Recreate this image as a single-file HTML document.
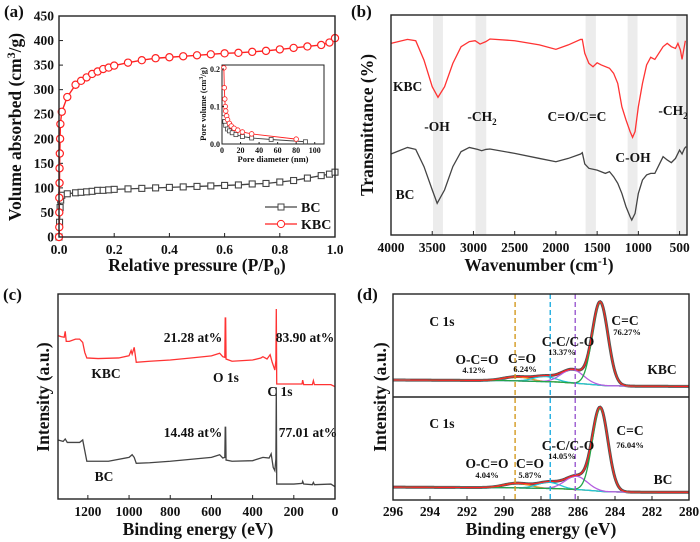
<!DOCTYPE html>
<html><head><meta charset="utf-8">
<style>
html,body{margin:0;padding:0;background:#fff;}
svg{display:block;font-family:"Liberation Serif",serif;font-weight:bold;}
</style></head>
<body>
<svg id="fig" width="700" height="542" viewBox="0 0 700 542" xmlns="http://www.w3.org/2000/svg"></svg>
<script>
// ---------- Panel (a) data ----------
const isoP_KBC = [0,0.001,0.001,0.001,0.002,0.002,0.003,0.004,0.005,0.01,0.03,0.06,0.08,0.1,0.12,0.14,0.16,0.18,0.2,0.25,0.3,0.35,0.4,0.45,0.5,0.55,0.6,0.65,0.7,0.75,0.8,0.85,0.9,0.95,0.98,1.0];
const isoV_KBC = [0,20,50,80,110,140,170,200,230,255,285,310,318,325,332,337,342,345,349,355,360,364,366,368,370,372,374,375,377,379,382,385,388,391,396,405];
const isoP_BC = [0,0.002,0.004,0.006,0.01,0.03,0.06,0.08,0.1,0.12,0.14,0.16,0.18,0.2,0.25,0.3,0.35,0.4,0.45,0.5,0.55,0.6,0.65,0.7,0.75,0.8,0.85,0.9,0.95,0.98,1.0];
const isoV_BC = [0,30,60,75,85,88,90,91,92,93,95,95,96,97,98,99,100,101,102,103,104,105,106,108,109,112,115,120,125,128,132];
const inD_KBC = [2,2.5,3,3.5,4,5,6,8,10,13,17,22,32,80];
const inV_KBC = [0.203,0.15,0.12,0.1,0.088,0.075,0.065,0.055,0.048,0.042,0.037,0.032,0.027,0.013];
const inD_BC = [2,3,4,6,8,11,15,22,32,53,90];
const inV_BC = [0.07,0.06,0.05,0.04,0.035,0.03,0.025,0.02,0.016,0.012,0.006];
const aYTicks = [0,50,100,150,200,250,300,350,400,450];
const aXTicks = [0,0.2,0.4,0.6,0.8,1.0];
// ---------- Panel (b) data ----------
const ftWn_KBC = [4000,3800,3700,3600,3500,3430,3350,3250,3150,3050,2980,2920,2850,2800,2500,2200,2000,1850,1700,1680,1650,1600,1550,1500,1450,1350,1300,1250,1200,1150,1100,1070,1040,1000,950,900,850,800,700,650,600,550,520,490,470,430];
const ftT_KBC = [87.1,88.9,88.3,79.5,67.4,62.6,67.4,78.0,85.6,87.9,88.3,86.8,87.9,89.1,88.3,86.4,84.4,86.4,88.9,88.9,82.6,78.0,76.5,78.3,77.3,75.8,73.5,68.9,58.3,52.3,47.0,44.4,47.0,58.3,68.9,77.3,80.8,79.8,85.6,87.1,85.6,84.8,87.1,84.1,79.8,88.3];
const ftWn_BC = [4000,3800,3700,3600,3500,3440,3350,3250,3150,3050,2950,2900,2850,2800,2500,2200,2000,1850,1700,1680,1650,1600,1500,1400,1350,1300,1250,1200,1150,1100,1080,1040,1000,950,900,850,800,700,650,600,550,500,470,440,420];
const ftT_BC = [36.8,39.8,38.9,31.1,20.5,14.4,20.5,31.1,37.9,39.8,38.9,38.3,38.9,39.1,37.1,34.8,33.3,34.8,36.8,37.4,32.3,30.3,29.5,28.0,28.8,26.5,23.5,18.9,12.9,8.3,6.8,9.8,18.9,25.0,27.3,28.0,28.0,35.6,34.1,32.9,34.8,38.6,36.8,39.4,40.2];
const bXTicks = [4000,3500,3000,2500,2000,1500,1000,500];
const bBands = [[3490,3370],[2975,2845],[1640,1515],[1130,1010],[540,418]];
// ---------- Panel (c) data ----------
const svE_KBC = [1345,1330,1315,1310,1305,1290,1260,1240,1225,1215,1205,1150,1050,1000,990,985,975,965,900,800,700,600,560,545,535,533,531,529,500,400,360,350,330,315,305,292,287,285,283,200,160,157,152,110,105,100,20,0];
const svI_KBC = [79.7,79.2,78.9,81.8,76.9,76.9,78.0,78.0,76.4,71.5,68.8,68.5,68.8,69.9,72.4,70.7,74.0,66.7,67.2,67.8,68.8,69.8,71.1,69.4,69.1,88.3,88.3,68.3,67.2,67.8,68.8,69.4,68.3,70.4,66.7,62.9,67.5,92.7,56.1,56.1,56.1,58.0,55.8,55.8,57.7,55.8,55.8,54.8];
const svE_BC = [1345,1320,1310,1300,1240,1225,1215,1205,1100,1000,985,975,965,900,800,600,560,545,535,533,531,529,500,400,350,320,310,300,292,287,285,283,200,160,157,152,110,105,100,20,0];
const svI_BC = [28.8,28.1,29.3,27.6,27.6,28.8,23.6,18.4,18.4,20.3,21.6,20.3,17.4,17.7,18.4,20.3,21.6,20.0,20.3,35.0,35.0,19.0,18.4,18.7,20.3,20.0,22.0,15.4,13.8,19.5,54.5,7.3,7.3,7.6,8.6,7.3,7.0,8.1,7.0,7.3,6.0];
const cXTicks = [1200,1000,800,600,400,200,0];
// ---------- Panel (d) data ----------
const dNames = ["O-C=O","C=O","C-C/C-O","C=C"];
const dCenter_KBC = [289.3,287.8,286.3,284.8];
const dHeight_KBC = [4,5,13,80.5];
const dFwhm_KBC = [1.6,1.4,1.4,1.0];
const dCenter_BC = [289.3,287.6,286.1,284.8];
const dHeight_BC = [4.5,6,13,80.5];
const dFwhm_BC = [1.6,1.4,1.4,1.0];
const dBaseE = [296,290,287,285.5,284.5,283,280];
const dBase_KBC = [16.5,16,14.5,12.5,11,10.5,10.3];
const dBase_BC = [12.5,12,11,9.5,8,7.6,7.5];
const dDashE = [289.4,287.5,286.15];
const dXTicks = [296,294,292,290,288,286,284,282,280];

const NS="http://www.w3.org/2000/svg";
const svg=document.getElementById('fig');
function mk(tag,attrs,parent){const e=document.createElementNS(NS,tag);for(const k in attrs)e.setAttribute(k,attrs[k]);(parent||svg).appendChild(e);return e;}
function txt(x,y,s,size,anchor,extra){const t=mk('text',Object.assign({x:x,y:y,'font-size':size,'text-anchor':anchor||'middle',fill:'#111'},extra||{}));t.textContent=s;return t;}
function lin(d0,d1,r0,r1){return v=>r0+(v-d0)/(d1-d0)*(r1-r0);}
function pathD(xs,ys,fx,fy){return xs.map((v,i)=>(i?'L':'M')+fx(v).toFixed(2)+','+fy(ys[i]).toFixed(2)).join('');}
function interp(xs,ys,x){for(let i=0;i<xs.length-1;i++){const a=xs[i],b=xs[i+1];if((x<=a&&x>=b)||(x>=a&&x<=b)){const t=(x-a)/(b-a);return ys[i]+t*(ys[i+1]-ys[i]);}}return ys[ys.length-1];}

// ================= Panel a =================
{
const g=mk('g',{});


const X0=59,X1=335,Y0=16,Y1=237;
const fx=lin(0,1,X0,X1), fy=lin(0,450,Y1,Y0);
const pl=txt(4,17,'(a)',17,'start');

aYTicks.forEach(v=>{mk('line',{x1:X0,x2:X0+4,y1:fy(v),y2:fy(v),stroke:'#222','stroke-width':1},g);
 const t=txt(54,fy(v)+4.5,String(v),13.5,'end');});
aXTicks.forEach(v=>{mk('line',{x1:fx(v),x2:fx(v),y1:Y1,y2:Y1-4,stroke:'#222'},g);
 const t=txt(fx(v),254,v.toFixed(1),13.5);});
const bc=mk('path',{d:pathD(isoP_BC,isoV_BC,fx,fy),fill:'none',stroke:'#444','stroke-width':1.3},g);

isoP_BC.forEach((p,i)=>{if(i%1===0){const r=mk('rect',{x:fx(p)-3,y:fy(isoV_BC[i])-3,width:6,height:6,fill:'#fff',stroke:'#444','stroke-width':1.1},g);}});
const kb=mk('path',{d:pathD(isoP_KBC,isoV_KBC,fx,fy),fill:'none',stroke:'#f22','stroke-width':1.4},g);

isoP_KBC.forEach((p,i)=>{const c=mk('circle',{cx:fx(p),cy:fy(isoV_KBC[i]),r:3.6,fill:'#fff',stroke:'#f22','stroke-width':1.2},g);});
mk('rect',{x:X0,y:Y0,width:X1-X0,height:Y1-Y0,fill:'none',stroke:'#222','stroke-width':1.4},g);
// legend
const lg=mk('g',{},g);
mk('line',{x1:265,x2:297,y1:207,y2:207,stroke:'#444','stroke-width':1.3},lg);
mk('rect',{x:278,y:204,width:6,height:6,fill:'#fff',stroke:'#444'},lg);
txt(301,212,'BC',14,'start');
mk('line',{x1:265,x2:297,y1:224,y2:224,stroke:'#f22','stroke-width':1.3},lg);
mk('circle',{cx:281,cy:224,r:3.6,fill:'#fff',stroke:'#f22'},lg);
txt(301,229,'KBC',14,'start');
// inset
const IX0=222,IX1=324,IY0=65,IY1=144;
const ix=lin(0,110,IX0,IX1), iy=lin(0,0.2107,IY1,IY0);
const ig=mk('g',{},g);
mk('rect',{x:IX0,y:IY0,width:IX1-IX0,height:IY1-IY0,fill:'#fff',stroke:'#222','stroke-width':1},ig);
mk('path',{d:pathD(inD_BC,inV_BC,ix,iy),fill:'none',stroke:'#444','stroke-width':0.9},ig);
inD_BC.forEach((d,i)=>mk('rect',{x:ix(d)-2,y:iy(inV_BC[i])-2,width:4,height:4,fill:'#fff',stroke:'#444','stroke-width':0.8},ig));
mk('path',{d:pathD(inD_KBC,inV_KBC,ix,iy),fill:'none',stroke:'#f22','stroke-width':0.9},ig);
inD_KBC.forEach((d,i)=>mk('circle',{cx:ix(d),cy:iy(inV_KBC[i]),r:2.3,fill:'#fff',stroke:'#f22','stroke-width':0.8},ig));
[0,0.1,0.2].forEach(v=>{mk('line',{x1:IX0,x2:IX0+2,y1:iy(v),y2:iy(v),stroke:'#222'},ig);txt(IX0-2,iy(v)+3,v.toFixed(1),8,'end');});
[0,20,40,60,80,100].forEach(v=>{mk('line',{x1:ix(v),x2:ix(v),y1:IY1,y2:IY1-2,stroke:'#222'},ig);txt(ix(v),IY1+9,String(v),8);});
txt(273,162,'Pore diameter (nm)',8.5);
const iyl=txt(0,0,'',8.5,'middle',{transform:'translate(206,104) rotate(-90)'});
iyl.innerHTML='Pore volume (cm<tspan dy="-3" font-size="6">3</tspan><tspan dy="3">/g)</tspan>';
// titles
const xt=txt(197,271,'',17.5);xt.innerHTML='Relative pressure (P/P<tspan dy="4" font-size="12">0</tspan><tspan dy="-4">)</tspan>';

const yt=txt(0,0,'',17.5,'middle',{transform:'translate(21,127) rotate(-90)'});yt.innerHTML='Volume absorbed (cm<tspan dy="-6" font-size="12">3</tspan><tspan dy="6">/g)</tspan>';

}

// ================= Panel b =================
{
const g=mk('g',{});
const X0=391,X1=687,Y0=15,Y1=235;
const fx=lin(4000,410,X0,X1), fy=lin(0,100,Y1,Y0);
const pl=txt(351,17,'(b)',17,'start');
bBands.forEach(b=>{const r=mk('rect',{x:fx(b[0]),y:Y0,width:fx(b[1])-fx(b[0]),height:Y1-Y0,fill:'#ececec'},g);});
const k=mk('path',{d:pathD(ftWn_KBC,ftT_KBC,fx,fy),fill:'none',stroke:'#f33','stroke-width':1.3},g);
const b=mk('path',{d:pathD(ftWn_BC,ftT_BC,fx,fy),fill:'none',stroke:'#444','stroke-width':1.3},g);
mk('rect',{x:X0,y:Y0,width:X1-X0,height:Y1-Y0,fill:'none',stroke:'#222','stroke-width':1.4},g);
bXTicks.forEach(v=>{mk('line',{x1:fx(v),x2:fx(v),y1:Y1,y2:Y1-4,stroke:'#222'},g);const t=txt(fx(v),252,String(v),13.5);});
txt(393,91,'KBC',13.5,'start');txt(437,131,'-OH',13.5);
const c1=txt(482,121,'',13.5);c1.innerHTML='-CH<tspan dy="4" font-size="9">2</tspan>';
txt(577,121,'C=O/C=C',13.5);
const c2=txt(673,115,'',13.5);c2.innerHTML='-CH<tspan dy="4" font-size="9">2</tspan>';
txt(633,162,'C-OH',13.5);txt(405,199,'BC',13.5);
const xt=txt(539,271,'',17.5);xt.innerHTML='Wavenumber (cm<tspan dy="-6" font-size="12">-1</tspan><tspan dy="6">)</tspan>';

const yt=txt(0,0,'Transmittance (%)',17.5,'middle',{transform:'translate(373,125) rotate(-90)'});

}

// ================= Panel c =================
{
const g=mk('g',{});
const X0=58,X1=335,Y0=294,Y1=499;
const fx=lin(1345,0,X0,X1), fy=lin(0,100,Y1,Y0);
const pl=txt(3,300,'(c)',17,'start');
const k=mk('path',{d:pathD(svE_KBC,svI_KBC,fx,fy),fill:'none',stroke:'#f33','stroke-width':1.3},g);
const b=mk('path',{d:pathD(svE_BC,svI_BC,fx,fy),fill:'none',stroke:'#444','stroke-width':1.3},g);
mk('rect',{x:X0,y:Y0,width:X1-X0,height:Y1-Y0,fill:'none',stroke:'#222','stroke-width':1.4},g);
cXTicks.forEach(v=>{mk('line',{x1:fx(v),x2:fx(v),y1:Y1,y2:Y1-4,stroke:'#222'},g);const t=txt(fx(v),516,String(v),13.5);});
txt(193,342,'21.28 at%',13.5);txt(305,342,'83.90 at%',13.5);
txt(106,378,'KBC',13.5);txt(226,382,'O 1s',13.5);txt(280,396,'C 1s',13.5);
txt(193,437,'14.48 at%',13.5);txt(308,437,'77.01 at%',13.5);txt(104,481,'BC',13.5);
const xt=txt(198,535,'Binding energy (eV)',17.5);
const yt=txt(0,0,'Intensity (a.u.)',17.5,'middle',{transform:'translate(49,397) rotate(-90)'});
}

// ================= Panel d =================
{
const g=mk('g',{});
const X0=393,X1=689,YT=294,YM=397,YB=500;
const fx=lin(296,280,X0,X1);
const pl=txt(357,300,'(d)',17,'start');
const cols=['#e39a1c','#22c4d8','#b45ee0','#22a44a'];
function sub(top,bot,cen,hei,fw,base,tag){
 const fy=lin(0,100,bot,top);
 const es=[];for(let e=296;e>=279.999;e-=0.05)es.push(+e.toFixed(2));
 const bl=es.map(e=>interp(dBaseE,base,e));
 const comps=cen.map((c,j)=>es.map(e=>hei[j]*Math.exp(-4*Math.LN2*Math.pow((e-c)/fw[j],2))));
 const env=es.map((e,i)=>bl[i]+comps.reduce((s,cp)=>s+cp[i],0));
 const raw=mk('path',{d:pathD(es,env,fx,fy),fill:'none',stroke:'#555','stroke-width':3},g);
 const bp=mk('path',{d:pathD(es,bl,fx,fy),fill:'none',stroke:'#20c4c4','stroke-width':1.3},g);
 comps.forEach((cp,j)=>{const p=mk('path',{d:pathD(es,cp.map((v,i)=>v+bl[i]),fx,fy),fill:'none',stroke:cols[j],'stroke-width':1.3},g);});
 const ep=mk('path',{d:pathD(es,env,fx,fy),fill:'none',stroke:'#f22','stroke-width':1.2},g);
}
sub(YT,YM,dCenter_KBC,dHeight_KBC,dFwhm_KBC,dBase_KBC,'kbc');
sub(YM,YB,dCenter_BC,dHeight_BC,dFwhm_BC,dBase_BC,'bc');
const dc=['#d49a20','#22aee0','#9a5ad0'];
dDashE.forEach((e,i)=>{const l=mk('line',{x1:fx(e),x2:fx(e),y1:YT,y2:YB,stroke:dc[i],'stroke-width':1.4,'stroke-dasharray':'5,3'},g);});
mk('rect',{x:X0,y:YT,width:X1-X0,height:YB-YT,fill:'none',stroke:'#222','stroke-width':1.4},g);
mk('line',{x1:X0,x2:X1,y1:YM,y2:YM,stroke:'#222','stroke-width':1.4},g);
dXTicks.forEach(v=>{mk('line',{x1:fx(v),x2:fx(v),y1:YB,y2:YB-4,stroke:'#222'},g);const t=txt(fx(v),516,String(v),13.5);});
// annotations
txt(442,326,'C 1s',13.5);txt(625,325,'C=C',13.5);txt(627,335,'76.27%',8.5);
txt(568,346,'C-C/C-O',13.5);txt(562,355,'13.37%',8.5);
txt(477,364,'O-C=O',13.5);txt(474,373,'4.12%',8.5);
txt(522,363,'C=O',13.5);txt(525,372,'6.24%',8.5);txt(662,374,'KBC',13.5);
txt(442,428,'C 1s',13.5);txt(630,435,'C=C',13.5);txt(630,448,'76.04%',8.5);
txt(568,450,'C-C/C-O',13.5);txt(562,459,'14.05%',8.5);
txt(487,468,'O-C=O',13.5);txt(487,478,'4.04%',8.5);
txt(530,468,'C=O',13.5);txt(530,478,'5.87%',8.5);txt(663,484,'BC',13.5);
const xt=txt(541,535,'Binding energy (eV)',17.5);
const yt=txt(0,0,'Intensity (a.u.)',17.5,'middle',{transform:'translate(386,397) rotate(-90)'});
}
</script>
</body></html>
